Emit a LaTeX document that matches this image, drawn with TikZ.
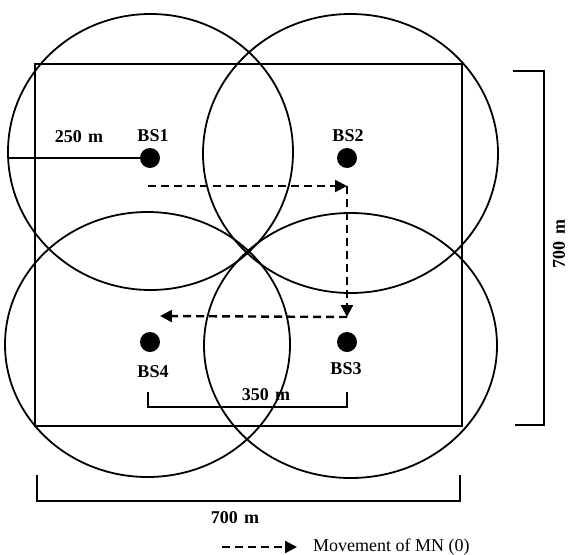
\documentclass[tikz,border=0pt]{standalone}
\usepackage{fontspec}
\setmainfont{Liberation Serif}
\usetikzlibrary{arrows.meta,calc}
\begin{document}
\begin{tikzpicture}[x=1pt,y=-1pt,
  zone/.style={line width=1.8pt},
  frame/.style={line width=2.2pt},
  dim/.style={line width=2.4pt},
  move/.style={line width=2.4pt, dash pattern=on 8pt off 5pt,
    -{Triangle[length=12pt,width=12pt]}},
  bs/.style={circle, fill=black, inner sep=0pt, minimum size=20pt},
  lab/.style={font=\fontsize{18}{20}\selectfont\bfseries, inner sep=0pt},
  leg/.style={font=\fontsize{18}{20}\selectfont, inner sep=0pt, anchor=west}]
\useasboundingbox (0,0) rectangle (569,554);

% coverage areas of the four base stations
\draw[zone] (150.5,152) ellipse [x radius=142.5pt, y radius=138pt];
\draw[zone] (350.5,153.5) ellipse [x radius=147.5pt, y radius=139.5pt];
\draw[zone] (350.5,345.5) ellipse [x radius=146.5pt, y radius=132.5pt];
\draw[zone] (147.5,344.5) ellipse [x radius=142.5pt, y radius=132.5pt];

% service area
\draw[frame] (35,64) rectangle (462,426);

% base stations
\node[bs] (bs1) at (150,158) {};
\node[bs] (bs2) at (347,158) {};
\node[bs] (bs3) at (347,342) {};
\node[bs] (bs4) at (150,342) {};
\node[lab] (l1) at (153,136) {BS1};
\node[lab] (l2) at (348,136) {BS2};
\node[lab] (l3) at (346,369) {BS3};
\node[lab] (l4) at (153,372) {BS4};

% radius
\coordinate (redge) at (9,158);
\draw[dim, line width=2pt] (redge) -- (bs1.center);
\node[lab] (lr) at (79,137) {250\hspace{0.35em}m};

% path of the mobile node
\coordinate (m1) at (148,186);
\coordinate (m2) at (347,186);
\coordinate (m3) at (347,317);
\coordinate (m4) at (160,316);
\draw[move] (m1) -- (m2);
\draw[move] (m2) -- (m3);
\draw[move] (m3) -- (m4);

% distance between stations
\coordinate (d1) at (148,392);
\coordinate (d2) at (148,407);
\coordinate (d3) at (347,407);
\coordinate (d4) at (347,392);
\draw[dim] (d1) -- (d2) -- (d3) -- (d4);
\node[lab] (ld) at (266,395) {350\hspace{0.35em}m};

% width of the area
\coordinate (w1) at (37,475);
\coordinate (w2) at (37,501);
\coordinate (w3) at (460,501);
\coordinate (w4) at (460,475);
\draw[dim] (w1) -- (w2) -- (w3) -- (w4);
\node[lab] (lw) at (235,518) {700\hspace{0.35em}m};

% height of the area
\coordinate (h1) at (513,71);
\coordinate (h2) at (544,71);
\coordinate (h3) at (544,425);
\coordinate (h4) at (515,425);
\draw[dim] (h1) -- (h2) -- (h3) -- (h4);
\node[lab, rotate=90] (lh) at (559,244) {700\hspace{0.35em}m};

% legend
\coordinate (k1) at (222,547);
\coordinate (k2) at (297,547);
\draw[move] (k1) -- (k2);
\node[leg] (lk) at (313,547) {Movement of MN (0)};
\end{tikzpicture}
\end{document}
